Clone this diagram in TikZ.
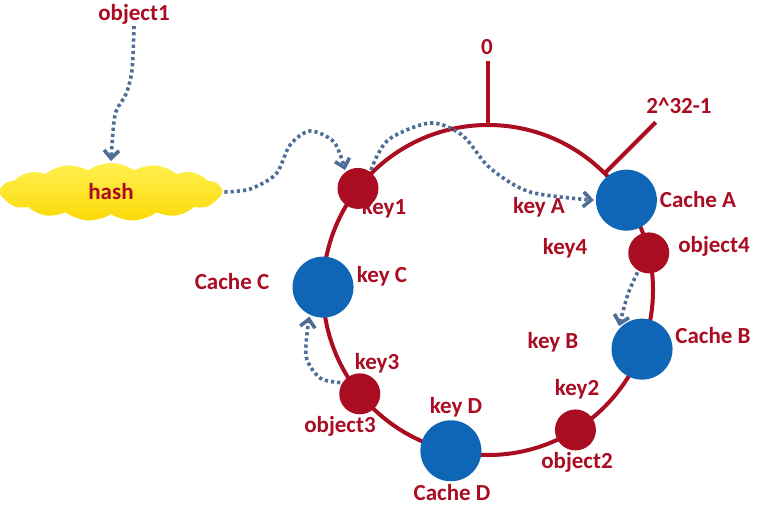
\documentclass[tikz,border=0pt]{standalone}
\usepackage{fontspec}
\setmainfont{Carlito}
\usetikzlibrary{arrows.meta,shapes.symbols}
\definecolor{ringred}{RGB}{170,12,34}
\definecolor{cacheblue}{RGB}{16,102,182}
\definecolor{dotblue}{RGB}{78,110,150}
\definecolor{hashtop}{RGB}{255,240,80}
\definecolor{hashbottom}{RGB}{252,218,8}
\begin{document}
\begin{tikzpicture}[x=1pt,y=-1pt,line width=4pt,
    lbl/.style={text=ringred,font=\fontsize{23}{23}\selectfont\bfseries,inner sep=0pt},
    cache/.style={circle,fill=cacheblue,minimum size=61pt,inner sep=0pt},
    keydot/.style={circle,fill=ringred,minimum size=41pt,inner sep=0pt},
    dotarrow/.style={draw=dotblue,line width=3.6pt,dash pattern=on 3.2pt off 3pt,
      -{Straight Barb[length=8pt,width=15pt,line width=3.6pt]}}]
  \useasboundingbox (0,0) rectangle (762,515);
  % ring and the two ends
  \node[circle,draw=ringred,minimum size=330pt,inner sep=0pt,outer sep=0pt] (ring) at (488,290) {};
  \draw[ringred] (ring.north) -- ++(0,-64) coordinate (zero);
  \draw[ringred] (ring.45) -- ++(51,-51) coordinate (last);
  \node[lbl] (zerolbl) at (487,47) {0};
  \node[lbl] (lastlbl) at (679,106) {2\textasciicircum32-1};
  % caches and keys on the ring
  \node[keydot] (key1) at (ring.142) {};
  \node[cache] (cacheA) at (ring.33) {};
  \node[keydot] (obj4) at (ring.13) {};
  \node[cache] (cacheB) at (ring.-21) {};
  \node[keydot] (obj2) at (ring.-58) {};
  \node[cache] (cacheD) at (ring.-103) {};
  \node[keydot] (obj3) at (ring.-141) {};
  \node[cache] (cacheC) at (ring.179) {};
  % labels
  \node[lbl] (obj1lbl) at (134,14) {object1};
  \node[lbl] (key1lbl) at (384,208) {key1};
  \node[lbl] (keyAlbl) at (539,207) {key A};
  \node[lbl] (cacheAlbl) at (698,200) {Cache A};
  \node[lbl] (key4lbl) at (565,248) {key4};
  \node[lbl] (obj4lbl) at (714,246) {object4};
  \node[lbl] (cacheClbl) at (232,282) {Cache C};
  \node[lbl] (keyClbl) at (382,276) {key C};
  \node[lbl] (key3lbl) at (377,363) {key3};
  \node[lbl] (obj3lbl) at (340,426) {object3};
  \node[lbl] (keyDlbl) at (456,407) {key D};
  \node[lbl] (cacheDlbl) at (452,493) {Cache D};
  \node[lbl] (cacheBlbl) at (713,336) {Cache B};
  \node[lbl] (keyBlbl) at (553,342) {key B};
  \node[lbl] (key2lbl) at (577,389) {key2};
  \node[lbl] (obj2lbl) at (577,462) {object2};
  % hash cloud
  \node[cloud,cloud puffs=15,cloud puff arc=70,aspect=4,minimum width=222pt,minimum height=58pt,
    top color=hashtop,bottom color=hashbottom,lbl,inner sep=0pt] (hash) at (111,192) {hash};
  % waypoints of the dotted arrows
  \coordinate (p1) at (132,70);
  \coordinate (p2) at (126,94);
  \coordinate (p3) at (115,115);
  \coordinate (q1) at (250,189);
  \coordinate (q2) at (276,174);
  \coordinate (q3) at (290,145);
  \coordinate (q4) at (310,131);
  \coordinate (q5) at (334,142);
  \coordinate (r1) at (388,140);
  \coordinate (r2) at (430,123);
  \coordinate (r3) at (462,135);
  \coordinate (r4) at (490,168);
  \coordinate (r5) at (530,192);
  \coordinate (s1) at (628,294);
  \coordinate (t1) at (320,378);
  \coordinate (t2) at (306,356);
  \draw[dotarrow] plot [smooth] coordinates {(obj1lbl.south) (p1) (p2) (p3) (hash.north)};
  \draw[dotarrow] plot [smooth] coordinates {(hash.east) (q1) (q2) (q3) (q4) (q5) (key1.125)};
  \draw[dotarrow] plot [smooth] coordinates {(key1.55) (r1) (r2) (r3) (r4) (r5) (cacheA.west)};
  \draw[dotarrow] plot [smooth] coordinates {(obj4.240) (s1) (cacheB.135)};
  \draw[dotarrow] plot [smooth] coordinates {(obj3.150) (t1) (t2) (cacheC.245)};
\end{tikzpicture}
\end{document}
